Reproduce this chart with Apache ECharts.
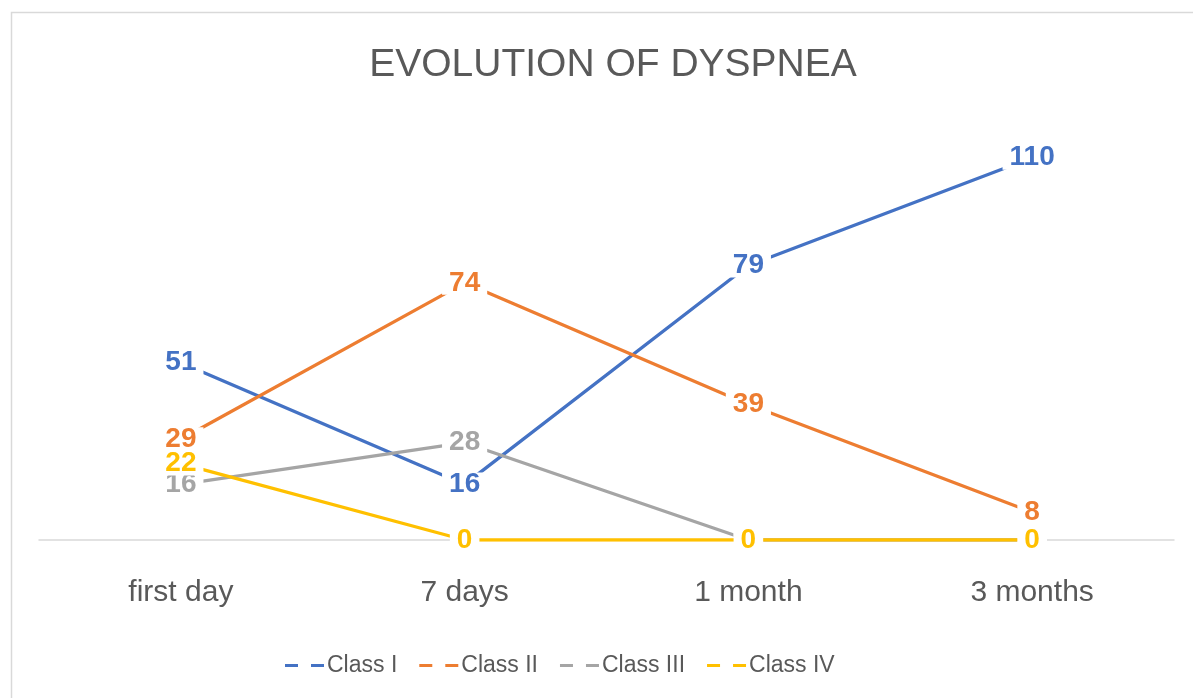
<!DOCTYPE html>
<html>
<head>
<meta charset="utf-8">
<script src="https://cdn.jsdelivr.net/npm/echarts@6/dist/echarts.min.js"></script>
<style>html,body{margin:0;padding:0;background:#fff;}#c{width:1193px;height:698px;}</style>
</head>
<body>
<div id="c"></div>
<script>
const categories = ['first day', '7 days', '1 month', '3 months'];
const classI = [51, 16, 79, 110];
const classII = [29, 74, 39, 8];
const classIII = [16, 28, 0, 0];
const classIV = [22, 0, 0, 0];
const seriesNames = ['Class I', 'Class II', 'Class III', 'Class IV'];
const seriesColors = ['#4472C4', '#ED7D31', '#A5A5A5', '#FFC000'];

const chart = echarts.init(document.getElementById('c'));
const dataSets = [classI, classII, classIII, classIV];
const series = dataSets.map((d, i) => ({
  name: seriesNames[i],
  type: 'line',
  data: d,
  symbol: 'circle',
  symbolSize: 1,
  showSymbol: true,
  z: 2 + i,
  lineStyle: { color: seriesColors[i], width: 3.3 },
  itemStyle: { color: seriesColors[i] },
  label: {
    show: true,
    position: 'inside',
    offset: [0, 2],
    color: seriesColors[i],
    fontFamily: 'Liberation Sans, sans-serif',
    fontWeight: 'bold',
    fontSize: 28,
    lineHeight: 24,
    backgroundColor: '#fff',
    padding: [0, 7]
  },
  labelLayout: { hideOverlap: false },
  emphasis: { disabled: true },
  animation: false
}));

chart.setOption({
  animation: false,
  title: {
    text: 'EVOLUTION OF DYSPNEA',
    left: 608,
    textAlign: 'center',
    top: 41,
    textStyle: { color: '#595959', fontSize: 39, fontWeight: 'normal', fontFamily: 'Liberation Sans, sans-serif' }
  },
  legend: {
    left: 280,
    top: 649,
    itemWidth: 39,
    itemHeight: 3,
    itemGap: 22,
    icon: 'path://M0,0h13v3h-13z M26,0h13v3h-13z',
    textStyle: { color: '#595959', fontSize: 23, fontFamily: 'Liberation Sans, sans-serif', padding: [0, 0, 0, -2] },
    data: seriesNames
  },
  grid: { left: 39, width: 1135, top: 123, height: 417 },
  xAxis: {
    type: 'category',
    data: categories,
    boundaryGap: true,
    axisLine: { lineStyle: { color: '#d9d9d9', width: 1.5 } },
    axisTick: { show: false },
    axisLabel: { color: '#595959', fontSize: 30, margin: 38, fontFamily: 'Liberation Sans, sans-serif' }
  },
  yAxis: {
    type: 'value', min: 0, max: 120, interval: 20, show: false,
    splitLine: { show: false }
  },
  series: series,
  graphic: [{
    type: 'rect',
    shape: { x: 11.5, y: 12.5, width: 1200, height: 720 },
    style: { fill: 'none', stroke: '#d9d9d9', lineWidth: 1.5 },
    silent: true
  }]
});
</script>
</body>
</html>
